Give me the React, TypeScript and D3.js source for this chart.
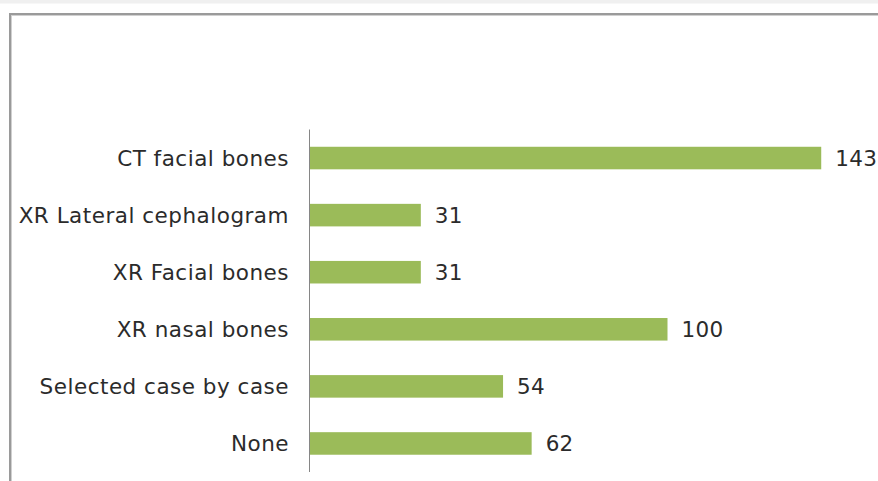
import React from "react";
import * as d3 from "d3";

const categories = [
  "CT facial bones",
  "XR Lateral cephalogram",
  "XR Facial bones",
  "XR nasal bones",
  "Selected case by case",
  "None",
];
const values = [143, 31, 31, 100, 54, 62];
const xMax = 160;

const W = 878;
const H = 481;

export default function App() {
  const y = d3
    .scaleBand<string>()
    .domain(categories)
    .range([129.5, 472])
    .paddingInner(0.605)
    .paddingOuter(0.3025);
  const x = d3.scaleLinear().domain([0, xMax]).range([310, 882]);
  const font = "'DejaVu Sans', Verdana, sans-serif";
  return (
    <div style={{ position: "absolute", left: 0, top: 0 }}>
      <svg width={W} height={H} style={{ display: "block" }}>
        <rect x={0} y={0} width={W} height={H} fill="#ffffff" />
        <rect x={0} y={0} width={W} height={3.5} fill="#f0f0f0" />
        {/* frame */}
        <line x1={10} x2={W} y1={14} y2={14} stroke="#9a9a9a" strokeWidth={2} />
        <line x1={10} x2={W} y1={15.5} y2={15.5} stroke="#d0d0d0" strokeWidth={1} />
        <line x1={10} x2={10} y1={13} y2={H} stroke="#9a9a9a" strokeWidth={2} />
        <line x1={11.5} x2={11.5} y1={15} y2={H} stroke="#d0d0d0" strokeWidth={1} />
        {/* bars */}
        {categories.map((c, i) => (
          <rect
            key={c}
            x={x(0)}
            y={y(c)!}
            width={x(values[i]) - x(0)}
            height={y.bandwidth()}
            fill="#9bbb59"
          />
        ))}
        {/* axis */}
        <line x1={309.5} x2={309.5} y1={129.5} y2={472} stroke="#868686" strokeWidth={1} />
        {/* category labels */}
        {categories.map((c) => (
          <text
            key={c}
            x={289}
            y={y(c)! + y.bandwidth() / 2}
            dy="0.35em"
            textAnchor="end"
            fontFamily={font}
            fontSize={21.5}
            letterSpacing={0.5}
            fill="#2b2b2b"
          >
            {c}
          </text>
        ))}
        {/* value labels */}
        {categories.map((c, i) => (
          <text
            key={c}
            x={x(values[i]) + 14}
            y={y(c)! + y.bandwidth() / 2}
            dy="0.35em"
            textAnchor="start"
            fontFamily={font}
            fontSize={21.5}
            letterSpacing={0.3}
            fill="#2b2b2b"
          >
            {values[i]}
          </text>
        ))}
      </svg>
    </div>
  );
}
